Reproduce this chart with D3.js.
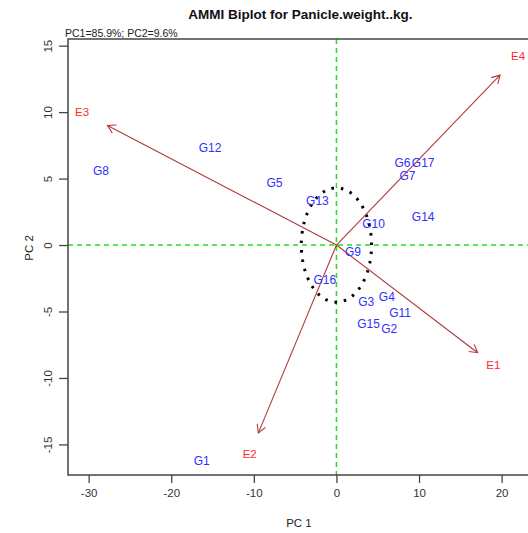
<!DOCTYPE html>
<html>
<head>
<meta charset="utf-8">
<script src="https://cdn.jsdelivr.net/npm/d3@7"></script>
<style>
  html, body { margin: 0; padding: 0; background: #fff; }
  svg text { font-family: "Liberation Sans", Arial, sans-serif; }
</style>
</head>
<body>
<svg id="chart" width="528" height="533"></svg>
<script>
// Genotype scores on the first two interaction principal components
const genotypes = ["G1","G2","G3","G4","G5","G6","G7","G8","G9","G10","G11","G12","G13","G14","G15","G16","G17"];
const genoPC1 = [-16.3, 6.4, 3.6, 6.1, -7.5, 8.0, 8.6, -28.5, 2.0, 4.5, 7.7, -15.3, -2.3, 10.5, 3.9, -1.4, 10.5];
const genoPC2 = [-16.2, -6.3, -4.3, -3.9, 4.7, 6.2, 5.2, 5.6, -0.5, 1.6, -5.1, 7.3, 3.3, 2.1, -5.9, -2.6, 6.2];

// Environment scores
const environments = ["E1","E2","E3","E4"];
const envPC1 = [19.0, -10.5, -30.8, 22.0];
const envPC2 = [-9.0, -15.7, 10.0, 14.2];

const xTicks = [-30, -20, -10, 0, 10, 20];
const yTicks = [-15, -10, -5, 0, 5, 10, 15];

const title = "AMMI Biplot for Panicle.weight..kg.";
const subtitle = "PC1=85.9%; PC2=9.6%";

const svg = d3.select("#chart");
const plot = { left: 68, right: 533, top: 39, bottom: 475 };

const x = d3.scaleLinear().domain([-32.5, 23.8]).range([plot.left, plot.right]);
const y = d3.scaleLinear().domain([-17.3, 15.5]).range([plot.bottom, plot.top]);

const axisColor = "#444";
const tickText = "#333";
const plainNum = d => String(d);   // ASCII hyphen for negatives

// Title and variance explained
svg.append("text")
  .attr("x", (plot.left + plot.right) / 2).attr("y", 19)
  .attr("text-anchor", "middle")
  .attr("font-size", 13.5).attr("font-weight", "bold").attr("fill", "#111")
  .text(title);
svg.append("text")
  .attr("x", 65).attr("y", 37)
  .attr("font-size", 10.5).attr("fill", "#222")
  .text(subtitle);

// Reference lines through the origin
const refColor = "#22dd22";
svg.append("line")
  .attr("x1", x(0)).attr("x2", x(0)).attr("y1", plot.top).attr("y2", plot.bottom)
  .attr("stroke", refColor).attr("stroke-width", 1.5).attr("stroke-dasharray", "5,4");
svg.append("line")
  .attr("x1", plot.left).attr("x2", plot.right).attr("y1", y(0)).attr("y2", y(0))
  .attr("stroke", refColor).attr("stroke-width", 1.5).attr("stroke-dasharray", "5,4");

// Dotted ellipse around the stable genotypes
const ell = d3.range(0, 361, 2).map(a => {
  const t = a * Math.PI / 180;
  return [x(4.25 * Math.cos(t)), y(4.3 * Math.sin(t))];
});
svg.append("path")
  .attr("d", d3.line()(ell))
  .attr("fill", "none").attr("stroke", "#000")
  .attr("stroke-width", 3).attr("stroke-dasharray", "2.5,7");

// Environment vectors drawn to 90% of their scores with open arrowheads
const arrowColor = "#b03a3a";
const ag = svg.append("g");
environments.forEach((e, i) => {
  const x1 = x(0), y1 = y(0);
  const x2 = x(envPC1[i] * 0.9), y2 = y(envPC2[i] * 0.9);
  ag.append("line")
    .attr("x1", x1).attr("y1", y1).attr("x2", x2).attr("y2", y2)
    .attr("stroke", arrowColor).attr("stroke-width", 1.1);
  const ang = Math.atan2(y2 - y1, x2 - x1);
  const len = 9, spread = Math.PI / 6;
  const p1 = [x2 - len * Math.cos(ang - spread), y2 - len * Math.sin(ang - spread)];
  const p2 = [x2 - len * Math.cos(ang + spread), y2 - len * Math.sin(ang + spread)];
  ag.append("path")
    .attr("d", `M${p1[0]},${p1[1]}L${x2},${y2}L${p2[0]},${p2[1]}`)
    .attr("fill", "none").attr("stroke", arrowColor).attr("stroke-width", 1.1);
});

// Environment labels
svg.append("g").selectAll("text").data(environments).join("text")
  .attr("x", (d, i) => x(envPC1[i]))
  .attr("y", (d, i) => y(envPC2[i]))
  .attr("dy", "0.35em").attr("text-anchor", "middle")
  .attr("font-size", 11.5).attr("fill", "#ff2a2a")
  .text(d => d);

// Genotype labels
svg.append("g").selectAll("text").data(genotypes).join("text")
  .attr("x", (d, i) => x(genoPC1[i]))
  .attr("y", (d, i) => y(genoPC2[i]))
  .attr("dy", "0.35em").attr("text-anchor", "middle")
  .attr("font-size", 12).attr("fill", "#3030ff")
  .text(d => d);

// Plot frame
svg.append("rect")
  .attr("x", plot.left).attr("y", plot.top)
  .attr("width", plot.right - plot.left).attr("height", plot.bottom - plot.top)
  .attr("fill", "none").attr("stroke", axisColor).attr("stroke-width", 1.5);

// Bottom axis
const xAxis = svg.append("g").attr("transform", `translate(0,${plot.bottom})`)
  .call(d3.axisBottom(x).tickValues(xTicks).tickSize(8).tickPadding(6).tickFormat(plainNum));
xAxis.select(".domain").remove();
xAxis.selectAll("line").attr("stroke", axisColor).attr("stroke-width", 1.3);
xAxis.selectAll("text").attr("font-size", 11.5).attr("fill", tickText)
  .attr("font-family", "Liberation Sans, Arial, sans-serif");

// Left axis with labels parallel to the axis
const yAxis = svg.append("g").attr("transform", `translate(${plot.left},0)`)
  .call(d3.axisLeft(y).tickValues(yTicks).tickSize(9).tickFormat(plainNum));
yAxis.select(".domain").remove();
yAxis.selectAll("line").attr("stroke", axisColor).attr("stroke-width", 1.3);
yAxis.selectAll("text")
  .attr("font-size", 11.5).attr("fill", tickText)
  .attr("font-family", "Liberation Sans, Arial, sans-serif")
  .attr("x", null).attr("dy", null)
  .attr("text-anchor", "middle")
  .attr("transform", "translate(-16,0) rotate(-90)");

// Axis titles
svg.append("text")
  .attr("x", 299).attr("y", 527)
  .attr("text-anchor", "middle").attr("font-size", 11.5).attr("fill", "#222")
  .text("PC 1");
svg.append("text")
  .attr("transform", `translate(33,${248}) rotate(-90)`)
  .attr("text-anchor", "middle").attr("font-size", 11.5).attr("fill", "#222")
  .text("PC 2");
</script>
</body>
</html>
